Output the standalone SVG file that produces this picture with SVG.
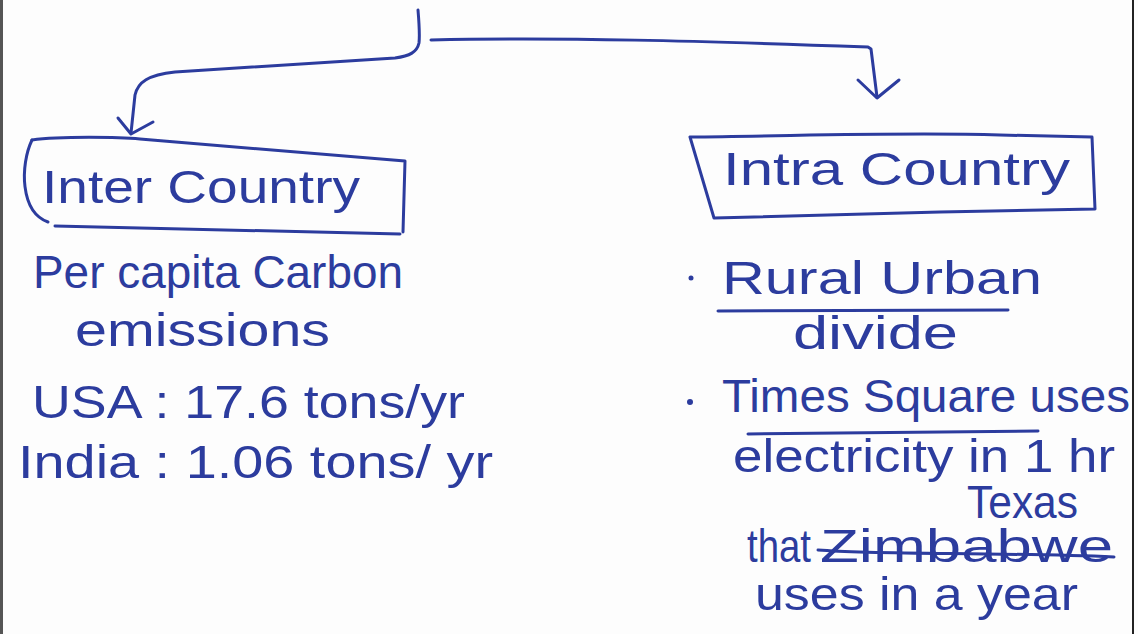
<svg xmlns="http://www.w3.org/2000/svg" width="1138" height="634" viewBox="0 0 1138 634">
  <style>
    .ink { fill: none; stroke: #2c3c9e; stroke-width: 3; stroke-linecap: round; stroke-linejoin: round; }
    .hand { font-family: "Liberation Sans", "DejaVu Sans", sans-serif; fill: #2c3c9e; font-size: 46px; }
    .dot { fill: #2c3c9e; }
  </style>

  <!-- paper -->
  <rect x="0" y="0" width="1138" height="634" fill="#fdfdfd"/>
  <rect x="0" y="0" width="3" height="634" fill="#555"/>
  <rect x="1132" y="0" width="2" height="634" fill="#222"/>

  <!-- connectors -->
  <g id="connectors">
    <!-- left branch: stem curving down to the Inter Country box -->
    <path class="ink" d="M 418 10 C 419 22 420 34 419 43 C 417 52 410 56 395 58 L 175 72 C 148 75 138 82 135 95 L 131 133"/>
    <path class="ink" d="M 118 118 L 131 134 L 153 122"/>
    <!-- right branch: horizontal run then down to the Intra Country box -->
    <path class="ink" d="M 431 40 C 560 37 700 41 868 47 L 871 49 L 877 97"/>
    <path class="ink" d="M 858 80 L 877 98 L 899 80"/>
  </g>

  <!-- Inter Country branch -->
  <g id="inter-country">
    <path class="ink" d="M 32 140 C 60 136 120 137 140 139 L 405 161 L 403 232"/>
    <path class="ink" d="M 32 140 C 20 165 20 212 48 222"/>
    <path class="ink" d="M 55 226 L 400 234"/>
    <text class="hand" x="42" y="203" font-size="50" textLength="318" lengthAdjust="spacingAndGlyphs">Inter Country</text>
  </g>

  <g id="inter-details">
    <text class="hand" x="33" y="288" textLength="370" lengthAdjust="spacingAndGlyphs">Per capita Carbon</text>
    <text class="hand" x="75" y="346" textLength="255" lengthAdjust="spacingAndGlyphs">emissions</text>
    <text class="hand" x="32" y="418" textLength="433" lengthAdjust="spacingAndGlyphs">USA : 17.6 tons/yr</text>
    <text class="hand" x="18" y="478" textLength="475" lengthAdjust="spacingAndGlyphs">India : 1.06 tons/ yr</text>
  </g>

  <!-- Intra Country branch -->
  <g id="intra-country">
    <path class="ink" d="M 690 137 C 800 136 900 132 1000 135 L 1092 137 L 1095 209 L 940 212 L 714 218 L 690 137"/>
    <text class="hand" x="723" y="185" font-size="48" textLength="347" lengthAdjust="spacingAndGlyphs">Intra Country</text>
  </g>

  <g id="intra-details">
    <circle class="dot" cx="691" cy="278" r="2.5"/>
    <text class="hand" x="722" y="294" textLength="320" lengthAdjust="spacingAndGlyphs">Rural Urban</text>
    <path class="ink" d="M 718 311 L 1008 310"/>
    <text class="hand" x="793" y="349" textLength="165" lengthAdjust="spacingAndGlyphs">divide</text>

    <circle class="dot" cx="690" cy="402" r="3"/>
    <text class="hand" x="722" y="412" font-size="44" textLength="408" lengthAdjust="spacingAndGlyphs">Times Square uses</text>
    <path class="ink" d="M 748 434 L 1038 431"/>
    <text class="hand" x="733" y="472" font-size="42" textLength="382" lengthAdjust="spacingAndGlyphs">electricity in 1 hr</text>
    <text class="hand" x="967" y="518" font-size="22" textLength="111" lengthAdjust="spacingAndGlyphs">Texas</text>
    <text class="hand" x="747" y="562" font-size="40" textLength="64" lengthAdjust="spacingAndGlyphs">that</text>
    <text class="hand" x="820" y="562" font-size="36" textLength="293" lengthAdjust="spacingAndGlyphs">Zimbabwe</text>
    <path class="ink" d="M 818 550 C 880 555 1000 552 1114 557"/>
    <text class="hand" x="755" y="610" font-size="42" textLength="323" lengthAdjust="spacingAndGlyphs">uses in a year</text>
  </g>
</svg>
